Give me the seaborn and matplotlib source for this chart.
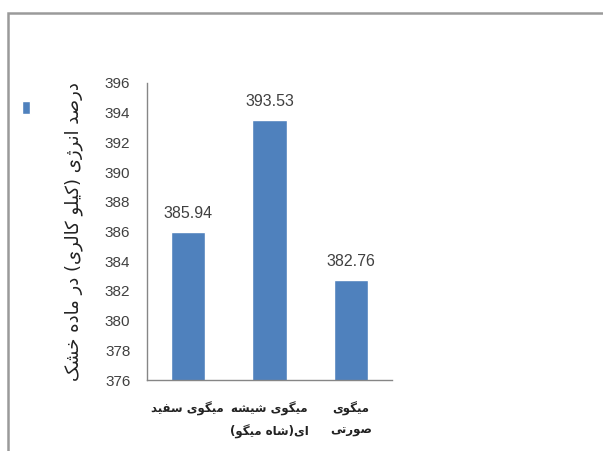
import matplotlib
matplotlib.use('Agg')
import matplotlib.pyplot as plt
import numpy as np
import pandas as pd
import seaborn as sns
from matplotlib.patches import Patch, Rectangle

categories = ['میگوی سفید', 'میگوی شیشه\nای(شاه میگو)', 'میگوی\nصورتی']
energy = [385.94, 393.53, 382.76]
y_ticks = list(range(376, 397, 2))
y_label = 'درصد انرژی (کیلو کالری) در ماده خشک'

BLUE = '#4F81BD'
GREY = '#868686'

# presentation forms: isolated, final, initial, medial
FORMS = {
    'ا': ('\uFE8D', '\uFE8E'), 'د': ('\uFEA9', '\uFEAA'), 'ر': ('\uFEAD', '\uFEAE'),
    'ز': ('\uFEAF', '\uFEB0'), 'ژ': ('\uFB8A', '\uFB8B'), 'و': ('\uFEED', '\uFEEE'),
    'م': ('\uFEE1', '\uFEE2', '\uFEE3', '\uFEE4'), 'ی': ('\uFBFC', '\uFBFD', '\uFBFE', '\uFBFF'),
    'گ': ('\uFB92', '\uFB93', '\uFB94', '\uFB95'), 'ک': ('\uFB8E', '\uFB8F', '\uFB90', '\uFB91'),
    'س': ('\uFEB1', '\uFEB2', '\uFEB3', '\uFEB4'), 'ش': ('\uFEB5', '\uFEB6', '\uFEB7', '\uFEB8'),
    'ص': ('\uFEB9', '\uFEBA', '\uFEBB', '\uFEBC'), 'ف': ('\uFED1', '\uFED2', '\uFED3', '\uFED4'),
    'ه': ('\uFEE9', '\uFEEA', '\uFEEB', '\uFEEC'), 'ت': ('\uFE95', '\uFE96', '\uFE97', '\uFE98'),
    'ن': ('\uFEE5', '\uFEE6', '\uFEE7', '\uFEE8'), 'ل': ('\uFEDD', '\uFEDE', '\uFEDF', '\uFEE0'),
    'خ': ('\uFEA5', '\uFEA6', '\uFEA7', '\uFEA8'),
}
MIRROR = {'(': ')', ')': '('}


def shape_line(s):
    out = []
    for i, c in enumerate(s):
        if c not in FORMS:
            out.append(MIRROR.get(c, c))
            continue
        f = FORMS[c]
        prev_j = i > 0 and s[i - 1] in FORMS and len(FORMS[s[i - 1]]) == 4
        next_j = i < len(s) - 1 and s[i + 1] in FORMS
        if len(f) == 2:
            out.append(f[1] if prev_j else f[0])
        else:
            if prev_j and next_j:
                out.append(f[3])
            elif prev_j:
                out.append(f[1])
            elif next_j:
                out.append(f[2])
            else:
                out.append(f[0])
    return ''.join(reversed(out))


def fa(s):
    return '\n'.join(shape_line(l) for l in s.split('\n'))


sns.set_style('white')
plt.rcParams['font.family'] = ['Liberation Sans', 'DejaVu Sans']

df = pd.DataFrame({'category': [fa(c) for c in categories], 'energy': energy})

fig = plt.figure(figsize=(6.03, 4.51), dpi=100)
ax = fig.add_axes([0.2438, 0.1574, 0.4063, 0.6586])
sns.barplot(data=df, x='category', y='energy', color=BLUE, width=0.42,
            saturation=1, ax=ax)

ax.set_ylim(376, 396)
ax.set_yticks(y_ticks)
ax.set_yticklabels([str(t) for t in y_ticks], fontsize=11, color='#404040')
ax.bar_label(ax.containers[0], fmt='%.2f', padding=8, fontsize=11.5, color='#404040')

ax.set_xlabel('')
ax.set_ylabel(fa(y_label), fontsize=13, family=['DejaVu Sans'], labelpad=16, color='#222222')
for lab in ax.get_xticklabels():
    lab.set_fontfamily(['DejaVu Sans'])
    lab.set_fontsize(8.5)
    lab.set_fontweight('bold')
    lab.set_linespacing(1.75)
    lab.set_color('#222222')

# boundaries between categories, like the reference
ax.set_xticks([-0.5, 0.5, 1.5, 2.5], minor=True)
ax.tick_params(axis='x', which='major', length=0, pad=16)
ax.tick_params(axis='x', which='minor', length=5, color=GREY, direction='out', width=1)
ax.tick_params(axis='y', length=4, color=GREY, direction='out', width=1, pad=8)

sns.despine(ax=ax)
for side in ['left', 'bottom']:
    ax.spines[side].set_color(GREY)
    ax.spines[side].set_linewidth(1)

fig.legend(handles=[Patch(facecolor=BLUE)], labels=[''], loc='center',
           bbox_to_anchor=(0.043, 0.76), frameon=False, handlelength=0.55,
           handleheight=1.1, handletextpad=0)

fig.add_artist(Rectangle((0.014, -0.1), 1.2, 1.072, transform=fig.transFigure,
                         fill=False, edgecolor='#9a9a9a', linewidth=1.8))

fig.savefig('out.png', dpi=100)
